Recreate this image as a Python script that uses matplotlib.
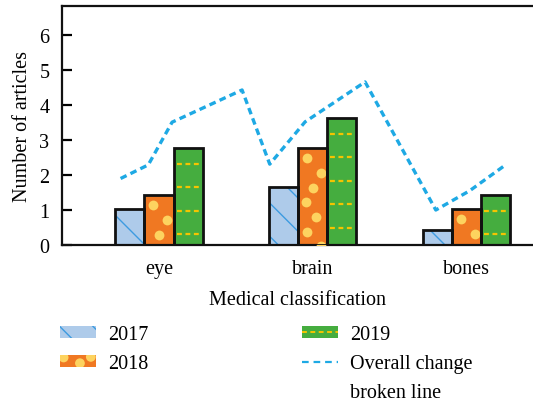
import numpy as np
import matplotlib
matplotlib.use("Agg")
import matplotlib.pyplot as plt
from matplotlib.patches import Rectangle, Ellipse, Patch
from matplotlib.lines import Line2D
from matplotlib.legend_handler import HandlerBase

plt.rcParams['font.family'] = ['Liberation Serif', 'DejaVu Serif']
plt.rcParams['hatch.linewidth'] = 1.0

# data
categories = ['eye', 'brain', 'bones']
v2017 = [1.03, 1.65, 0.44]
v2018 = [1.43, 2.78, 1.03]
v2019 = [2.78, 3.64, 1.44]
# broken line (x in category units)
line_x = [-0.25, -0.07, 0.085, 0.54, 0.72, 0.95, 1.34, 1.80, 2.02, 2.26]
line_y = [1.9, 2.29, 3.51, 4.43, 2.31, 3.52, 4.66, 1.0, 1.55, 2.31]

c17, c17h = '#aecbea', '#3d9be0'
c18, c18d = '#f07822', '#fdd35f'
c19, c19d = '#45ad3f', '#f5c400'
cline = '#1ea9e4'
fs = 14.5

fig = plt.figure(figsize=(5.33, 4.02), dpi=100)
ax = fig.add_axes([62/533, 156/402, 1 - 62/533, (246-7)/402])

x = np.arange(len(categories))
w = 0.189

# 2017: hatched light blue
ax.bar(x - w, v2017, w, color=c17, edgecolor=c17h, hatch='\\', linewidth=0, zorder=2)
ax.bar(x - w, v2017, w, fill=False, edgecolor='#111111', linewidth=2, zorder=4)

# 2018: orange with yellow dots
bars18 = ax.bar(x, v2018, w, color=c18, linewidth=0, zorder=2)
ax.bar(x, v2018, w, fill=False, edgecolor='#111111', linewidth=2, zorder=4)
xfr = [0.3, 0.78, 0.5, 0.25, 0.62]
for b in bars18:
    top = b.get_height()
    xs, ys = [], []
    k = 0
    y = top - 0.3
    while y > -0.1:
        xs.append(b.get_x() + xfr[k % len(xfr)] * b.get_width())
        ys.append(y)
        y -= 0.42
        k += 1
    sc = ax.scatter(xs, ys, s=50, color=c18d, linewidths=0, zorder=3)
    sc.set_clip_path(b)

# 2019: green with yellow dashed lines
bars19 = ax.bar(x + w, v2019, w, color=c19, linewidth=0, zorder=2)
ax.bar(x + w, v2019, w, fill=False, edgecolor='#111111', linewidth=2, zorder=4)
for b in bars19:
    top = b.get_height()
    y = top - 0.46
    while y > 0.15:
        ax.plot([b.get_x() + 0.02, b.get_x() + b.get_width() - 0.02], [y, y],
                color=c19d, lw=1.6, dashes=(2.2, 1.6), zorder=3)
        y -= 0.67

ax.plot(line_x, line_y, color=cline, lw=2.4, dashes=(2.0, 1.3), zorder=5)

ax.set_xlim(-0.631, 2.432)
ax.set_ylim(0, 6.83)
ax.set_xticks(x)
ax.set_xticklabels(categories, fontsize=fs)
ax.set_yticks(range(7))
ax.tick_params(axis='x', length=0, pad=10)
ax.tick_params(axis='y', direction='in', length=7, width=1.6, labelsize=fs, pad=9)
ax.spines['right'].set_visible(False)
for s in ['left', 'bottom', 'top']:
    ax.spines[s].set_linewidth(1.6)
    ax.spines[s].set_color('#111111')
ax.set_ylabel('Number of articles', fontsize=fs, labelpad=5)
ax.set_xlabel('Medical classification', fontsize=fs, labelpad=9)


class HatchHandler(HandlerBase):
    def create_artists(self, legend, orig, xd, yd, wd, ht, fsz, trans):
        r = Rectangle((-xd, -yd), wd, ht, facecolor=c17, edgecolor=c17h,
                      hatch='\\', lw=0, transform=trans)
        return [r]


class DotHandler(HandlerBase):
    def create_artists(self, legend, orig, xd, yd, wd, ht, fsz, trans):
        r = Rectangle((-xd, -yd), wd, ht, facecolor=c18, lw=0, transform=trans)
        arts = [r]
        for fx, fy in [(0.1, 0.8), (0.55, 0.3), (0.85, 0.85)]:
            e = Ellipse((-xd + fx * wd, -yd + fy * ht), ht * 0.85, ht * 0.85,
                        facecolor=c18d, lw=0, transform=trans)
            e.set_clip_path(r)
            arts.append(e)
        return arts


class DashHandler(HandlerBase):
    def create_artists(self, legend, orig, xd, yd, wd, ht, fsz, trans):
        r = Rectangle((-xd, -yd), wd, ht, facecolor=c19, lw=0, transform=trans)
        l = Line2D([-xd, -xd + wd], [-yd + ht / 2] * 2, color=c19d, lw=1.4,
                   dashes=(2.5, 1.8), transform=trans)
        return [r, l]


class BlankHandler(HandlerBase):
    def create_artists(self, legend, orig, xd, yd, wd, ht, fsz, trans):
        return [Rectangle((-xd, -yd), wd, ht, fill=False, lw=0, visible=False,
                          transform=trans)]


h17, h18, h19 = Patch(label='2017'), Patch(label='2018'), Patch(label='2019')
hl = Line2D([], [], color=cline, lw=1.6, dashes=(3, 2.2))
hb1, hb2 = Patch(), Patch()
fig.legend([h17, h18, hb1, h19, hl, hb2],
           ['2017', '2018', '', '2019', 'Overall change', 'broken line'],
           handler_map={h17: HatchHandler(), h18: DotHandler(), h19: DashHandler(),
                        hb1: BlankHandler(), hb2: BlankHandler()},
           loc='upper left', bbox_to_anchor=(60/533, 1 - 326/402), ncol=2,
           frameon=False, fontsize=fs, handlelength=1.8, handleheight=0.5,
           handletextpad=0.6, columnspacing=7.6, labelspacing=0.5,
           borderpad=0, borderaxespad=0)

fig.savefig('out.png', dpi=100)
